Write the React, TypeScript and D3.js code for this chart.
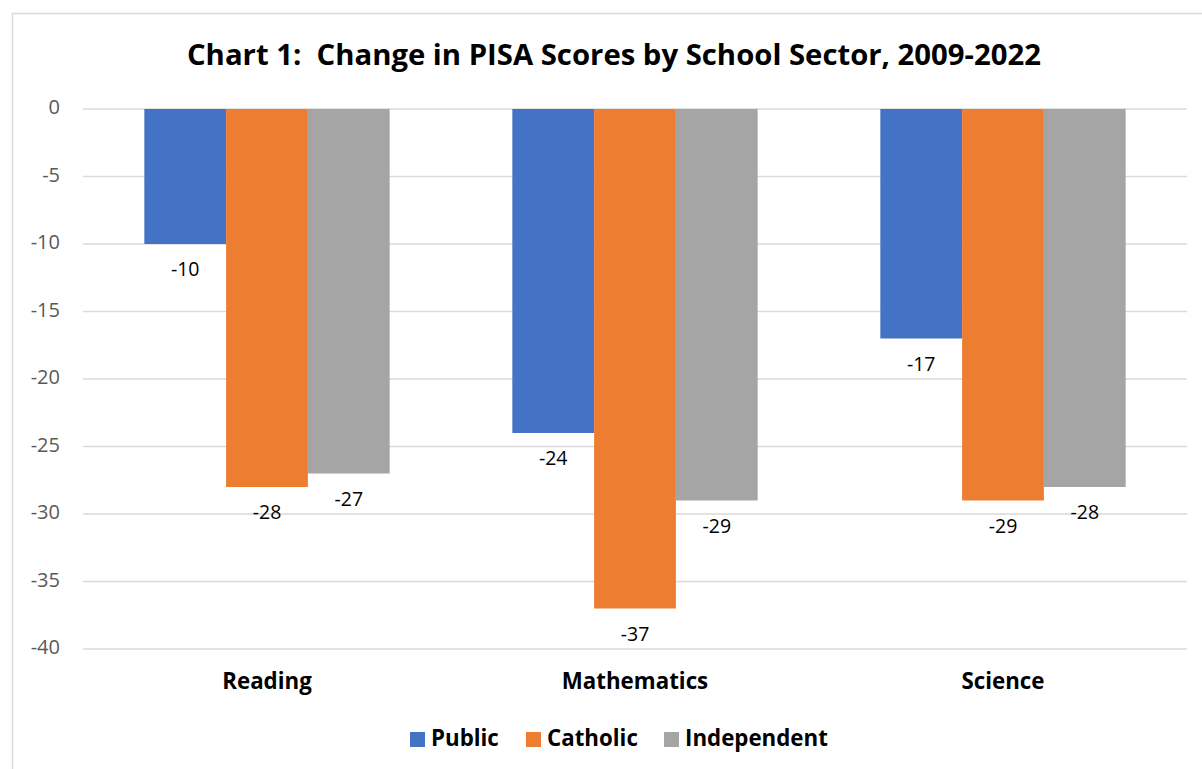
import React from 'react';
import { scaleBand, scaleLinear } from 'd3';

const subjects = ['Reading', 'Mathematics', 'Science'];
const sectors = ['Public', 'Catholic', 'Independent'];
const publicValues = [-10, -24, -17];
const catholicValues = [-28, -37, -29];
const independentValues = [-27, -29, -28];
const yTicks = [0, -5, -10, -15, -20, -25, -30, -35, -40];

const colors = ['#4472C4', '#ED7D31', '#A5A5A5'];
const seriesValues = [publicValues, catholicValues, independentValues];
const font = '"Open Sans", Lato, sans-serif';

const width = 1202;
const height = 769;
const plot = { left: 83, right: 1187, top: 109, bottom: 649 };

export default function App() {
  const xScale = scaleBand()
    .domain(subjects)
    .range([plot.left, plot.right]);

  // Excel gap width 150%: 3 bars + 1.5 bar widths of gap per category
  const barWidth = xScale.bandwidth() / 4.5;
  const inner = scaleBand()
    .domain(sectors)
    .range([barWidth * 0.75, barWidth * 3.75]);

  const yScale = scaleLinear()
    .domain([0, -40])
    .range([plot.top, plot.bottom]);

  return (
    <svg
      width={width}
      height={height}
      style={{ position: 'absolute', left: 0, top: 0, background: '#fff' }}
      fontFamily={font}>
      <rect x={12.5} y={13.5} width={1200} height={770} fill='#fff' stroke='#d9d9d9' strokeWidth={1.5} />
      <text
        x={614}
        y={57}
        textAnchor='middle'
        dominantBaseline='middle'
        fontWeight='bold'
        fontSize={29.3}
        style={{ whiteSpace: 'pre' }}
        fill='#000'>
        {'Chart 1:  Change in PISA Scores by School Sector, 2009-2022'}
      </text>
      {yTicks.map(t => (
        <g key={t}>
          <line
            x1={plot.left}
            x2={plot.right}
            y1={yScale(t)}
            y2={yScale(t)}
            stroke='#d9d9d9'
            strokeWidth={1.3}
          />
          <text
            x={60}
            y={yScale(t)}
            textAnchor='end'
            dominantBaseline='middle'
            fontSize={20}
            fill='#595959'>
            {t}
          </text>
        </g>
      ))}
      {sectors.map((s, si) =>
        subjects.map((subj, i) => {
          const v = seriesValues[si][i];
          const x = xScale(subj)! + inner(s)!;
          return (
            <g key={s + subj}>
              <rect
                x={x}
                y={yScale(0)}
                width={inner.bandwidth()}
                height={yScale(v) - yScale(0)}
                fill={colors[si]}
              />
              <text
                x={x + inner.bandwidth() / 2}
                y={yScale(v) + 27}
                textAnchor='middle'
                dominantBaseline='middle'
                fontSize={19.5}
                fill='#000'>
                {v}
              </text>
            </g>
          );
        })
      )}
      {subjects.map(subj => (
        <text
          key={subj}
          x={xScale(subj)! + xScale.bandwidth() / 2}
          y={683}
          textAnchor='middle'
          dominantBaseline='middle'
          fontWeight='bold'
          fontSize={22.3}
          fill='#000'>
          {subj}
        </text>
      ))}
      {sectors.map((s, si) => {
        const lx = [410, 526, 664][si];
        return (
          <g key={s}>
            <rect x={lx} y={732} width={15} height={15} fill={colors[si]} />
            <text
              x={lx + 21}
              y={740}
              dominantBaseline='middle'
              fontWeight='bold'
              fontSize={22.3}
              fill='#000'>
              {s}
            </text>
          </g>
        );
      })}
    </svg>
  );
}
